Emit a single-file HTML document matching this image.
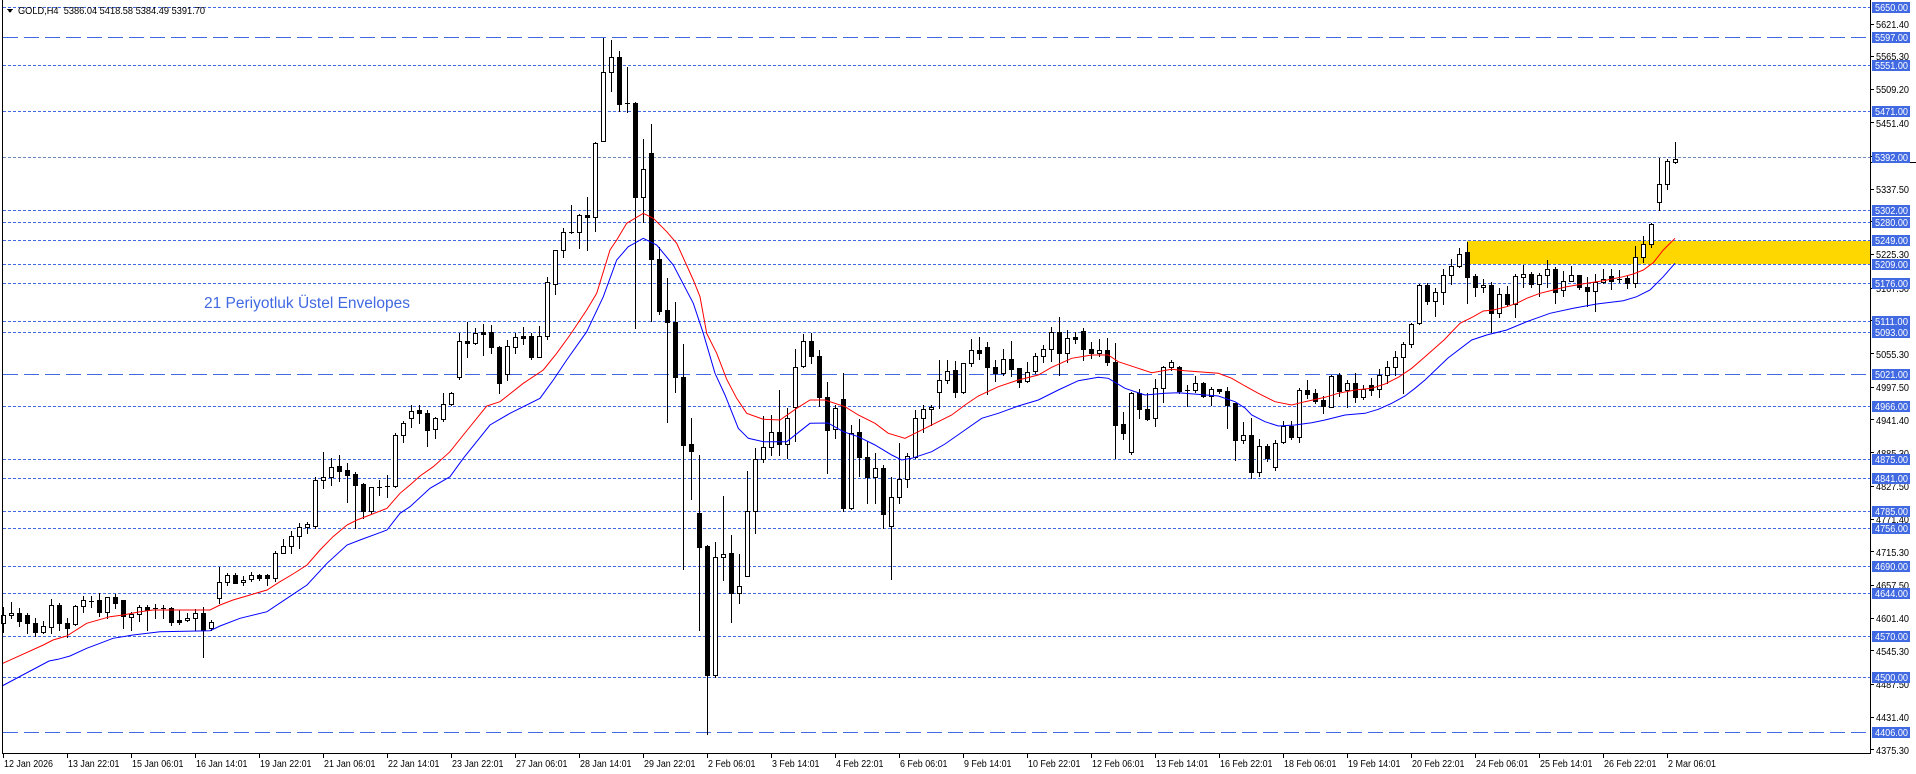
<!DOCTYPE html>
<html><head><meta charset="utf-8">
<style>
html,body{margin:0;padding:0;background:#fff;width:1916px;height:774px;overflow:hidden}
svg{display:block}
text{font-family:"Liberation Sans",Arial,sans-serif;font-size:10.5px}
.d{stroke:#4169E1;stroke-width:1;stroke-dasharray:3 2;fill:none}
.L{stroke:#4169E1;stroke-width:1;stroke-dasharray:15 6;fill:none}
.bx{fill:#4169E1}
.bt{fill:#fff}
.tk{fill:#000}
</style></head>
<body>
<svg id="c" width="1916" height="774" viewBox="0 0 1916 774" xmlns="http://www.w3.org/2000/svg" shape-rendering="crispEdges">
<rect x="0" y="0" width="1916" height="774" fill="#fff"/>
<rect x="1467" y="241" width="403" height="23" fill="#FFD700"/>
<g>
<line class="d" x1="3" y1="7.5" x2="1870" y2="7.5"/>
<line class="L" x1="3" y1="37.5" x2="1870" y2="37.5"/>
<line class="d" x1="3" y1="65.5" x2="1870" y2="65.5"/>
<line class="d" x1="3" y1="111.5" x2="1870" y2="111.5"/>
<line x1="3" y1="157.5" x2="1870" y2="157.5" stroke="#7088c0" stroke-width="1" stroke-dasharray="3 2"/>
<line class="d" x1="3" y1="210.5" x2="1870" y2="210.5"/>
<line class="d" x1="3" y1="222.5" x2="1870" y2="222.5"/>
<line class="d" x1="3" y1="240.5" x2="1870" y2="240.5"/>
<line class="d" x1="3" y1="264.5" x2="1870" y2="264.5"/>
<line class="d" x1="3" y1="283.5" x2="1870" y2="283.5"/>
<line class="d" x1="3" y1="321.5" x2="1870" y2="321.5"/>
<line class="d" x1="3" y1="332.5" x2="1870" y2="332.5"/>
<line class="L" x1="3" y1="374.5" x2="1870" y2="374.5"/>
<line class="d" x1="3" y1="406.5" x2="1870" y2="406.5"/>
<line class="d" x1="3" y1="459.5" x2="1870" y2="459.5"/>
<line class="d" x1="3" y1="478.5" x2="1870" y2="478.5"/>
<line class="d" x1="3" y1="511.5" x2="1870" y2="511.5"/>
<line class="d" x1="3" y1="528.5" x2="1870" y2="528.5"/>
<line class="d" x1="3" y1="566.5" x2="1870" y2="566.5"/>
<line class="d" x1="3" y1="593.5" x2="1870" y2="593.5"/>
<line class="d" x1="3" y1="636.5" x2="1870" y2="636.5"/>
<line class="d" x1="3" y1="677.5" x2="1870" y2="677.5"/>
<line class="L" x1="3" y1="732.5" x2="1870" y2="732.5"/>
</g>
<g id="candles"></g>
<g fill="none" stroke-width="1" shape-rendering="auto">
<polyline stroke="#FF0000" points="2,663.7 11.7,659.3 43.3,645 53,640 66.7,636 86.7,623.3 110,616.7 123,615 140,611.7 153,610 210,610 220,605 233,600 250,595 267,590 280,581.7 293,574 307,565 320,550 333,536.7 347,525 357,520 370,515 387,508.3 400,493.3 410,485 420,476 433.3,466.7 450,451.7 463.3,435 486.7,406 500,401.7 523.3,383.3 543.3,370 556.7,353.3 570,335 586.7,310 596.7,293.3 610,250 616.7,240 626.7,223.3 643.3,213.3 653.3,218.3 666.7,231.7 676.7,243.3 693.3,280 700,296.7 706.7,333.3 716.7,353.3 726.7,379.3 736.7,398.3 746.7,413.3 763.3,419.3 780,420 796.7,408.3 810,400 825,400 845,406.7 858.3,415 875,423.3 888.3,433.3 905,438.3 918.3,431.7 935,423.3 951.7,415 965,405 978.3,396 998.3,386.7 1018.3,380 1038.3,375 1051.7,367.3 1071.7,358.3 1091.7,355 1108.3,355 1118.3,361.7 1138.3,368.3 1151.7,372.7 1171.7,369.3 1185,370.7 1218.3,373.3 1231.7,378.3 1245,386 1258.3,393.3 1275,401.7 1291.7,405 1305,401.7 1325,397.3 1338.3,393.3 1355,390 1371.7,388.3 1385,384 1398.3,377.3 1411.7,368.3 1425,356.7 1444,340 1460,323.3 1473.3,316.7 1483.3,311 1493.3,310 1506.7,306.7 1516.7,303.3 1526.7,298.3 1540,293.3 1553.3,290 1566.7,286.7 1586.7,283.3 1603.3,280.7 1623.3,276.7 1633.3,274 1643.3,270 1653.3,262.7 1663.3,250 1675,238.3"/>
<polyline stroke="#0000FF" points="2,686 49,661 58,659.3 70,656 86.7,648.3 100,643.3 113,638.3 133,635 160,631.7 210,630.7 220,626 240,618.3 267,611.7 287,598.3 307,585 327,563.3 347,545 360,540 387,530 400,513.3 410,506.7 430,488.3 450,476.7 463.3,458.3 490,425 510,413.3 540,398.3 553.3,380 566.7,360 586.7,331.7 603.3,296.7 616.7,260 628.3,246.7 643.3,238.3 656.7,245 673.3,265 693.3,303.3 703.3,333.3 715,373.3 725,395 738.3,428.3 748.3,438.3 763.3,441.7 786.7,441.7 810,423.3 828,423 843.3,431.7 858.3,436.7 875,445 891.7,455 901.7,460 911.7,458.3 931.7,451.7 945,444 965,430 981.7,418.3 998.3,413.3 1018.3,406 1038.3,400 1058.3,390 1078.3,380.7 1098.3,377.3 1108.3,378.3 1125,388.3 1145,395 1165,393.3 1178.3,392.7 1218.3,396 1235,401.7 1245,408 1251.7,415 1265,421.7 1278.3,426 1295,425 1311.7,422.7 1325,420 1345,415 1365,413.3 1378.3,409.3 1391.7,403.3 1405,396 1415,388.3 1425,380 1448,358 1471.7,340 1486.7,335 1506.7,330 1526.7,321.7 1550,313.3 1573.3,308.3 1596.7,304 1623.3,300.7 1636.7,296.7 1650,290 1663.3,276.7 1675,263.3"/>
</g>
<g stroke="#000" stroke-width="1">
<line x1="2.5" y1="0" x2="2.5" y2="754"/>
<line x1="1870.5" y1="0" x2="1870.5" y2="754"/>
<line x1="2" y1="753.5" x2="1871" y2="753.5"/>
<line x1="1870" y1="162.5" x2="1916" y2="162.5"/>
</g>
<polygon points="7,9 13,9 10,13" fill="#000"/>
<text x="18" y="14" textLength="187" lengthAdjust="spacingAndGlyphs" fill="#000">GOLD,H4&#160; 5386.04 5418.58 5384.49 5391.70</text>
<text x="204" y="308" textLength="206" lengthAdjust="spacingAndGlyphs" style="font-size:15.5px" fill="#4169E1">21 Periyotluk Üstel Envelopes</text>
<g stroke="#000" stroke-width="1">
<line x1="1870" y1="24.5" x2="1874" y2="24.5"/><line x1="1870" y1="56.5" x2="1874" y2="56.5"/><line x1="1870" y1="89.5" x2="1874" y2="89.5"/><line x1="1870" y1="122.5" x2="1874" y2="122.5"/><line x1="1870" y1="156.5" x2="1874" y2="156.5"/><line x1="1870" y1="189.5" x2="1874" y2="189.5"/><line x1="1870" y1="221.5" x2="1874" y2="221.5"/><line x1="1870" y1="254.5" x2="1874" y2="254.5"/><line x1="1870" y1="288.5" x2="1874" y2="288.5"/><line x1="1870" y1="320.5" x2="1874" y2="320.5"/><line x1="1870" y1="353.5" x2="1874" y2="353.5"/><line x1="1870" y1="387.5" x2="1874" y2="387.5"/><line x1="1870" y1="419.5" x2="1874" y2="419.5"/><line x1="1870" y1="452.5" x2="1874" y2="452.5"/><line x1="1870" y1="486.5" x2="1874" y2="486.5"/><line x1="1870" y1="519.5" x2="1874" y2="519.5"/><line x1="1870" y1="551.5" x2="1874" y2="551.5"/><line x1="1870" y1="585.5" x2="1874" y2="585.5"/><line x1="1870" y1="618.5" x2="1874" y2="618.5"/><line x1="1870" y1="650.5" x2="1874" y2="650.5"/><line x1="1870" y1="684.5" x2="1874" y2="684.5"/><line x1="1870" y1="717.5" x2="1874" y2="717.5"/><line x1="1870" y1="749.5" x2="1874" y2="749.5"/>
</g>
<g class="tk">
<text x="1876" y="28" textLength="33" lengthAdjust="spacingAndGlyphs">5621.40</text>
<text x="1876" y="60" textLength="33" lengthAdjust="spacingAndGlyphs">5565.30</text>
<text x="1876" y="93" textLength="33" lengthAdjust="spacingAndGlyphs">5509.20</text>
<text x="1876" y="127" textLength="33" lengthAdjust="spacingAndGlyphs">5451.40</text>
<text x="1876" y="160" textLength="33" lengthAdjust="spacingAndGlyphs">5393.60</text>
<text x="1876" y="193" textLength="33" lengthAdjust="spacingAndGlyphs">5337.50</text>
<text x="1876" y="226" textLength="33" lengthAdjust="spacingAndGlyphs">5281.40</text>
<text x="1876" y="258" textLength="33" lengthAdjust="spacingAndGlyphs">5225.30</text>
<text x="1876" y="292" textLength="33" lengthAdjust="spacingAndGlyphs">5167.50</text>
<text x="1876" y="325" textLength="33" lengthAdjust="spacingAndGlyphs">5111.40</text>
<text x="1876" y="358" textLength="33" lengthAdjust="spacingAndGlyphs">5055.30</text>
<text x="1876" y="391" textLength="33" lengthAdjust="spacingAndGlyphs">4997.50</text>
<text x="1876" y="424" textLength="33" lengthAdjust="spacingAndGlyphs">4941.40</text>
<text x="1876" y="457" textLength="33" lengthAdjust="spacingAndGlyphs">4885.30</text>
<text x="1876" y="490" textLength="33" lengthAdjust="spacingAndGlyphs">4827.50</text>
<text x="1876" y="523" textLength="33" lengthAdjust="spacingAndGlyphs">4771.40</text>
<text x="1876" y="556" textLength="33" lengthAdjust="spacingAndGlyphs">4715.30</text>
<text x="1876" y="589" textLength="33" lengthAdjust="spacingAndGlyphs">4657.50</text>
<text x="1876" y="622" textLength="33" lengthAdjust="spacingAndGlyphs">4601.40</text>
<text x="1876" y="655" textLength="33" lengthAdjust="spacingAndGlyphs">4545.30</text>
<text x="1876" y="688" textLength="33" lengthAdjust="spacingAndGlyphs">4487.50</text>
<text x="1876" y="721" textLength="33" lengthAdjust="spacingAndGlyphs">4431.40</text>
<text x="1876" y="754" textLength="33" lengthAdjust="spacingAndGlyphs">4375.30</text>
</g>
<g>
<rect class="bx" x="1872" y="2" width="38" height="11"/><text class="bt" x="1875" y="11" textLength="33" lengthAdjust="spacingAndGlyphs">5650.00</text>
<rect class="bx" x="1872" y="32" width="38" height="11"/><text class="bt" x="1875" y="41" textLength="33" lengthAdjust="spacingAndGlyphs">5597.00</text>
<rect class="bx" x="1872" y="60" width="38" height="11"/><text class="bt" x="1875" y="69" textLength="33" lengthAdjust="spacingAndGlyphs">5551.00</text>
<rect class="bx" x="1872" y="106" width="38" height="11"/><text class="bt" x="1875" y="115" textLength="33" lengthAdjust="spacingAndGlyphs">5471.00</text>
<rect class="bx" x="1872" y="152" width="38" height="11"/><text class="bt" x="1875" y="161" textLength="33" lengthAdjust="spacingAndGlyphs">5392.00</text>
<rect class="bx" x="1872" y="205" width="38" height="11"/><text class="bt" x="1875" y="214" textLength="33" lengthAdjust="spacingAndGlyphs">5302.00</text>
<rect class="bx" x="1872" y="217" width="38" height="11"/><text class="bt" x="1875" y="226" textLength="33" lengthAdjust="spacingAndGlyphs">5280.00</text>
<rect class="bx" x="1872" y="235" width="38" height="11"/><text class="bt" x="1875" y="244" textLength="33" lengthAdjust="spacingAndGlyphs">5249.00</text>
<rect class="bx" x="1872" y="259" width="38" height="11"/><text class="bt" x="1875" y="268" textLength="33" lengthAdjust="spacingAndGlyphs">5209.00</text>
<rect class="bx" x="1872" y="278" width="38" height="11"/><text class="bt" x="1875" y="287" textLength="33" lengthAdjust="spacingAndGlyphs">5176.00</text>
<rect class="bx" x="1872" y="316" width="38" height="11"/><text class="bt" x="1875" y="325" textLength="33" lengthAdjust="spacingAndGlyphs">5111.00</text>
<rect class="bx" x="1872" y="327" width="38" height="11"/><text class="bt" x="1875" y="336" textLength="33" lengthAdjust="spacingAndGlyphs">5093.00</text>
<rect class="bx" x="1872" y="369" width="38" height="11"/><text class="bt" x="1875" y="378" textLength="33" lengthAdjust="spacingAndGlyphs">5021.00</text>
<rect class="bx" x="1872" y="401" width="38" height="11"/><text class="bt" x="1875" y="410" textLength="33" lengthAdjust="spacingAndGlyphs">4966.00</text>
<rect class="bx" x="1872" y="454" width="38" height="11"/><text class="bt" x="1875" y="463" textLength="33" lengthAdjust="spacingAndGlyphs">4875.00</text>
<rect class="bx" x="1872" y="473" width="38" height="11"/><text class="bt" x="1875" y="482" textLength="33" lengthAdjust="spacingAndGlyphs">4841.00</text>
<rect class="bx" x="1872" y="506" width="38" height="11"/><text class="bt" x="1875" y="515" textLength="33" lengthAdjust="spacingAndGlyphs">4785.00</text>
<rect class="bx" x="1872" y="523" width="38" height="11"/><text class="bt" x="1875" y="532" textLength="33" lengthAdjust="spacingAndGlyphs">4756.00</text>
<rect class="bx" x="1872" y="561" width="38" height="11"/><text class="bt" x="1875" y="570" textLength="33" lengthAdjust="spacingAndGlyphs">4690.00</text>
<rect class="bx" x="1872" y="588" width="38" height="11"/><text class="bt" x="1875" y="597" textLength="33" lengthAdjust="spacingAndGlyphs">4644.00</text>
<rect class="bx" x="1872" y="631" width="38" height="11"/><text class="bt" x="1875" y="640" textLength="33" lengthAdjust="spacingAndGlyphs">4570.00</text>
<rect class="bx" x="1872" y="672" width="38" height="11"/><text class="bt" x="1875" y="681" textLength="33" lengthAdjust="spacingAndGlyphs">4500.00</text>
<rect class="bx" x="1872" y="727" width="38" height="11"/><text class="bt" x="1875" y="736" textLength="33" lengthAdjust="spacingAndGlyphs">4406.00</text>
</g>
<g stroke="#000" stroke-width="1">
<line x1="3.5" y1="753" x2="3.5" y2="758"/><line x1="67.5" y1="753" x2="67.5" y2="758"/><line x1="131.5" y1="753" x2="131.5" y2="758"/><line x1="195.5" y1="753" x2="195.5" y2="758"/><line x1="259.5" y1="753" x2="259.5" y2="758"/><line x1="323.5" y1="753" x2="323.5" y2="758"/><line x1="387.5" y1="753" x2="387.5" y2="758"/><line x1="451.5" y1="753" x2="451.5" y2="758"/><line x1="515.5" y1="753" x2="515.5" y2="758"/><line x1="579.5" y1="753" x2="579.5" y2="758"/><line x1="643.5" y1="753" x2="643.5" y2="758"/><line x1="707.5" y1="753" x2="707.5" y2="758"/><line x1="771.5" y1="753" x2="771.5" y2="758"/><line x1="835.5" y1="753" x2="835.5" y2="758"/><line x1="899.5" y1="753" x2="899.5" y2="758"/><line x1="963.5" y1="753" x2="963.5" y2="758"/><line x1="1027.5" y1="753" x2="1027.5" y2="758"/><line x1="1091.5" y1="753" x2="1091.5" y2="758"/><line x1="1155.5" y1="753" x2="1155.5" y2="758"/><line x1="1219.5" y1="753" x2="1219.5" y2="758"/><line x1="1283.5" y1="753" x2="1283.5" y2="758"/><line x1="1347.5" y1="753" x2="1347.5" y2="758"/><line x1="1411.5" y1="753" x2="1411.5" y2="758"/><line x1="1475.5" y1="753" x2="1475.5" y2="758"/><line x1="1539.5" y1="753" x2="1539.5" y2="758"/><line x1="1603.5" y1="753" x2="1603.5" y2="758"/><line x1="1667.5" y1="753" x2="1667.5" y2="758"/>
</g>
<g class="tk">
<text x="4" y="767" textLength="49" lengthAdjust="spacingAndGlyphs">12 Jan 2026</text>
<text x="68" y="767" textLength="51.5" lengthAdjust="spacingAndGlyphs">13 Jan 22:01</text>
<text x="132" y="767" textLength="51.5" lengthAdjust="spacingAndGlyphs">15 Jan 06:01</text>
<text x="196" y="767" textLength="51.5" lengthAdjust="spacingAndGlyphs">16 Jan 14:01</text>
<text x="260" y="767" textLength="51.5" lengthAdjust="spacingAndGlyphs">19 Jan 22:01</text>
<text x="324" y="767" textLength="51.5" lengthAdjust="spacingAndGlyphs">21 Jan 06:01</text>
<text x="388" y="767" textLength="51.5" lengthAdjust="spacingAndGlyphs">22 Jan 14:01</text>
<text x="452" y="767" textLength="51.5" lengthAdjust="spacingAndGlyphs">23 Jan 22:01</text>
<text x="516" y="767" textLength="51.5" lengthAdjust="spacingAndGlyphs">27 Jan 06:01</text>
<text x="580" y="767" textLength="51.5" lengthAdjust="spacingAndGlyphs">28 Jan 14:01</text>
<text x="644" y="767" textLength="51.5" lengthAdjust="spacingAndGlyphs">29 Jan 22:01</text>
<text x="708" y="767" textLength="47.5" lengthAdjust="spacingAndGlyphs">2 Feb 06:01</text>
<text x="772" y="767" textLength="47.5" lengthAdjust="spacingAndGlyphs">3 Feb 14:01</text>
<text x="836" y="767" textLength="47.5" lengthAdjust="spacingAndGlyphs">4 Feb 22:01</text>
<text x="900" y="767" textLength="47.5" lengthAdjust="spacingAndGlyphs">6 Feb 06:01</text>
<text x="964" y="767" textLength="47.5" lengthAdjust="spacingAndGlyphs">9 Feb 14:01</text>
<text x="1028" y="767" textLength="52.5" lengthAdjust="spacingAndGlyphs">10 Feb 22:01</text>
<text x="1092" y="767" textLength="52.5" lengthAdjust="spacingAndGlyphs">12 Feb 06:01</text>
<text x="1156" y="767" textLength="52.5" lengthAdjust="spacingAndGlyphs">13 Feb 14:01</text>
<text x="1220" y="767" textLength="52.5" lengthAdjust="spacingAndGlyphs">16 Feb 22:01</text>
<text x="1284" y="767" textLength="52.5" lengthAdjust="spacingAndGlyphs">18 Feb 06:01</text>
<text x="1348" y="767" textLength="52.5" lengthAdjust="spacingAndGlyphs">19 Feb 14:01</text>
<text x="1412" y="767" textLength="52.5" lengthAdjust="spacingAndGlyphs">20 Feb 22:01</text>
<text x="1476" y="767" textLength="52.5" lengthAdjust="spacingAndGlyphs">24 Feb 06:01</text>
<text x="1540" y="767" textLength="52.5" lengthAdjust="spacingAndGlyphs">25 Feb 14:01</text>
<text x="1604" y="767" textLength="52.5" lengthAdjust="spacingAndGlyphs">26 Feb 22:01</text>
<text x="1668" y="767" textLength="48" lengthAdjust="spacingAndGlyphs">2 Mar 06:01</text>
</g>
</svg>
<script>
(function(){
var D=[
[1,615,623.3,606.7,631.7],[1,613.3,615.3,601.7,618.3],[0,613.3,620.7,608.3,626],[0,615,623.3,613.3,633.3],[0,623.3,631.7,618.3,636],
[1,626,631.7,620.7,633.3],[1,605,626.7,599.3,632.7],[0,605,623.3,602.7,630],[0,623.3,627.7,618.3,636.7],[1,606,624,605,625],
[1,600,606,596,611.7],[2,601,601,596,606.7],[0,600,611.7,593.3,616],[1,597.3,611.7,597.3,618.3],[0,597.3,603.3,594,608.3],
[0,600,616,600,628.3],[1,614,617.3,611.7,630],[1,607.3,614,605,620.7],[0,607.3,610,605,630],[2,608,608,604,618.3],
[2,608,608,605,618.3],[0,608.3,621.7,606.7,625],[0,620,621.7,610,624],[1,618.3,620,612.7,620.7],[1,613.3,618.3,609.3,630],
[0,613.3,630,606.7,656.7],[1,621.7,628.3,620,630],[1,581.7,598.3,566.7,602.7],[1,575,581.7,572.7,585],[0,575,582.7,572.7,583.3],
[1,580,582.3,576,585],[1,575.3,579.3,571.7,580.7],[0,575.3,578.3,574,580],[0,575.3,578.3,574,585],[1,553.3,578.3,550.7,580.7],
[1,545.7,553.3,539.3,553.3],[1,535.7,545.7,530.7,552.7],[1,526.7,535.7,522.7,548.3],[1,524.3,526.7,521.7,533.3],[1,480,526,477.3,528.3],
[1,477.3,480,451.7,488.3],[1,466.7,477.3,458.3,485],[0,466,470.7,455,480.7],[0,470,474.7,463.3,501.7],[0,474,485,471.7,528.3],
[0,484,510.7,482.7,518.3],[1,487.3,510.7,486.7,512.7],[2,487,487,480,495],[2,486,486,475,496.7],[1,435,485.7,433.3,486.7],
[1,423.3,435,420.7,441.7],[1,410.7,418.3,405,426.7],[0,410,413.3,405,423.3],[0,413.3,430,410,446],[1,418.3,429.3,416.7,438.3],
[1,404.3,419,393.3,420.7],[1,393.3,404.3,391.7,405],[1,341,376.7,332.7,379.3],[0,341,342.7,321.7,356.7],[1,333.3,342.7,328.3,344],
[0,332.3,334,324.3,355],[0,332.3,347.3,325,353.3],[0,347.3,382.7,346,393.3],[1,346,374,340,380],[1,337.3,346.7,333.3,353.3],
[0,336,337.7,327.3,344],[0,336,356.7,333.3,359.3],[1,336,356.7,326,356.7],[1,281.7,336,276.7,339.3],[1,250,284,250,294],
[1,232.3,250,228.3,256.7],[2,232,232,205,233.3],[1,215,232,214,247.7],[0,215,217.3,197.3,250],[1,143.3,216.7,141.7,230.7],
[1,71.7,140.7,38.3,140.7],[1,57.3,71.7,40,90.7],[0,57.3,104.3,51,110.7],[2,103,103,67.3,111.7],[0,102.7,196.7,101.7,328.3],
[1,169.3,196.7,139.3,222.3],[0,153.3,259.3,124.3,321],[0,259.3,310.7,246.7,314],[0,310,321.7,277.7,421.7],[0,321.7,377.3,302.3,391.7],
[0,377.3,445,344,569.3],[0,444,450.7,418.3,499],[0,513.3,546.7,455,630],[0,546,675,545,734],[1,557.3,675,542.3,677.3],
[1,554.3,557.3,496,580],[0,553.3,592.7,535,621.7],[1,585.7,593.3,554,602.7],[1,510.7,575.7,471,575.7],[1,459.3,510.7,448.3,532.7],
[1,446.7,459.3,416,461.7],[1,432.3,446.7,415,455],[0,432.3,444,390,455],[1,418.3,444,408.3,457.7],[1,366.7,407.3,349.3,440.7],
[1,341,366,334,366.7],[0,341,356,332.7,363.3],[0,356,397.3,350,406],[0,396.7,430,381.7,472.7],[1,408.3,429.3,405,438.3],
[0,399,508.3,373.3,510.7],[1,432.7,507.7,425,509.3],[0,432.3,457.3,419.3,476],[0,457.3,476.7,440.7,502.7],[1,468.3,476.7,453.3,502.7],
[0,468.3,514.3,465,527.7],[1,496.7,525.7,476.7,579.3],[1,479.3,496.7,443.3,503.3],[1,456,479.3,453.3,486.7],[1,418.3,456.7,410,458.3],
[1,409,418.3,405,431.7],[1,406.7,409,405,425],[1,380,391.7,360,408.3],[1,370.7,380,360,383.3],[0,370,391.7,360.7,397.3],
[1,363.3,391.7,362.7,392.7],[1,350.3,363.3,339.3,366],[0,350.3,353.3,337.3,359.3],[0,347.3,367.3,342.3,394],[0,367.3,372.7,360,380.7],
[1,359.3,373.3,349.3,375],[0,359.3,368.7,341,376],[0,368.3,381.7,368.3,387.3],[1,372,380.7,361.7,382.3],[1,356,371.3,353.3,372.7],
[1,349.3,356,345,361.7],[1,332.3,349.3,326.7,360.7],[0,332.3,353.3,316.7,375],[1,338.3,353.3,330,361.7],[0,337.3,338.7,331.7,343.3],
[0,330.7,349.3,328.3,360],[0,349.3,353.3,341.7,358.3],[1,350.3,352.7,339.3,356],[0,350.3,362.3,337.7,365],[0,361.7,425,343.3,458.3],
[0,424,432.7,411.7,439],[1,393.3,451.7,391.7,454],[0,392.7,409.3,389.3,418.3],[0,409,419,393.3,420],[1,388.3,418.3,379.3,426],
[1,367.3,388.3,366,401.7],[1,362.3,367.3,360,370],[0,366.7,390.7,366,392.7],[2,390,390,385,406],[1,383.3,390,376,391.7],
[0,383.3,396,381.7,397.3],[1,389.3,396,387.3,405],[0,389.3,390.7,389.3,392.7],[0,391,405,386.7,428.3],[0,403.3,440,403.3,460],
[1,435,440,421.7,443.3],[0,435,472,418.3,478],[1,446,472,439.3,476],[0,446,458.3,444,460.7],[1,442.7,467.3,440,470],
[1,426,442.3,420.7,442.7],[0,426,436.7,421,439.3],[1,390,436.7,388.3,441.7],[0,390,394,380,398.3],[0,393.3,400.7,389.3,402.7],
[0,400,406,396,412.7],[1,375.7,406.7,375,406.7],[0,375.3,390.7,372.7,396],[1,383.3,390,380,407.3],[0,383.3,397.3,373.3,401.7],
[1,389.3,397.3,385,399.3],[0,385,390,378.3,395],[1,375,389.3,369.3,397.3],[1,366.7,375,360.7,383.3],[1,356.7,366.7,351,375],
[1,344,356.7,341.7,392.7],[1,324,344,323.3,346.7],[1,285,323.3,284,324.3],[0,285,300.7,283.3,304],[1,292.3,300.7,288.3,315.7],
[1,275.3,292.3,269.3,304],[1,266,275.3,259.3,284],[1,254.3,266,247.7,267.3],[0,252.3,276.7,241.7,302.7],[0,276,287.3,274,295.7],
[1,285,287.3,279.3,291.7],[0,285,313.3,281.7,332.3],[1,294,313.3,288.3,317.3],[0,294,304,286,305.7],[1,276,304,274,316.7],
[1,274,276.7,265,286.7],[0,274.3,284.3,271.7,287.3],[1,275.3,284.3,273.3,296],[1,269.3,275.3,260,286.7],[0,269.3,291.7,266.7,302.7],
[1,280.7,290,270.7,296],[1,275.3,280.7,266,280.7],[0,275.3,286.7,275.3,289.3],[0,287.3,290.7,276.7,305.7],[1,281.7,290.7,274,310.7],
[1,279.3,281.7,269.3,282.7],[0,276,280.7,269.3,289.3],[2,279.3,279.3,270,282],[0,277.7,283.3,276,288.3],[1,257.3,282.7,246,286.7],
[1,244.3,257.3,236,261.7],[1,224.3,244.3,223.3,247.3],[1,184,201.7,158.3,210],[1,161,184.3,159.3,189],[1,158.7,161.7,142,162.7]
];
var ns="http://www.w3.org/2000/svg";
var g=document.getElementById('candles');
var wick="",blk="",doj="",whites=[];
for(var i=0;i<D.length;i++){
  var d=D[i],c=3+8*i;
  var t=Math.round(d[1]),b=Math.round(d[2]),h=Math.round(d[3]),l=Math.round(d[4]);
  if(l<b)l=b; if(h>t)h=t;
  wick+="M"+(c+0.5)+" "+h+"V"+(l+1);
  if(d[0]==2||b-t<1){
    doj+="M"+(c-2)+" "+(t+0.5)+"H"+(c+3);
  }else if(d[0]==0){
    blk+="M"+(c-2)+" "+t+"h5v"+(b-t+1)+"h-5z";
  }else{
    whites.push([c,t,b]);
  }
}
function P(dstr,attrs){var p=document.createElementNS(ns,'path');p.setAttribute('d',dstr);for(var k in attrs)p.setAttribute(k,attrs[k]);g.appendChild(p);}
P(wick,{stroke:'#000','stroke-width':'1',fill:'none'});
P(blk,{fill:'#000',stroke:'none'});
P(doj,{stroke:'#000','stroke-width':'1',fill:'none'});
for(var j=0;j<whites.length;j++){
  var w=whites[j];
  var r=document.createElementNS(ns,'rect');
  r.setAttribute('x',w[0]-1.5);r.setAttribute('y',w[1]+0.5);
  r.setAttribute('width',4);r.setAttribute('height',Math.max(w[2]-w[1],1));
  r.setAttribute('fill','#fff');r.setAttribute('stroke','#000');r.setAttribute('stroke-width','1');
  g.appendChild(r);
}
})();
</script>
</body></html>
